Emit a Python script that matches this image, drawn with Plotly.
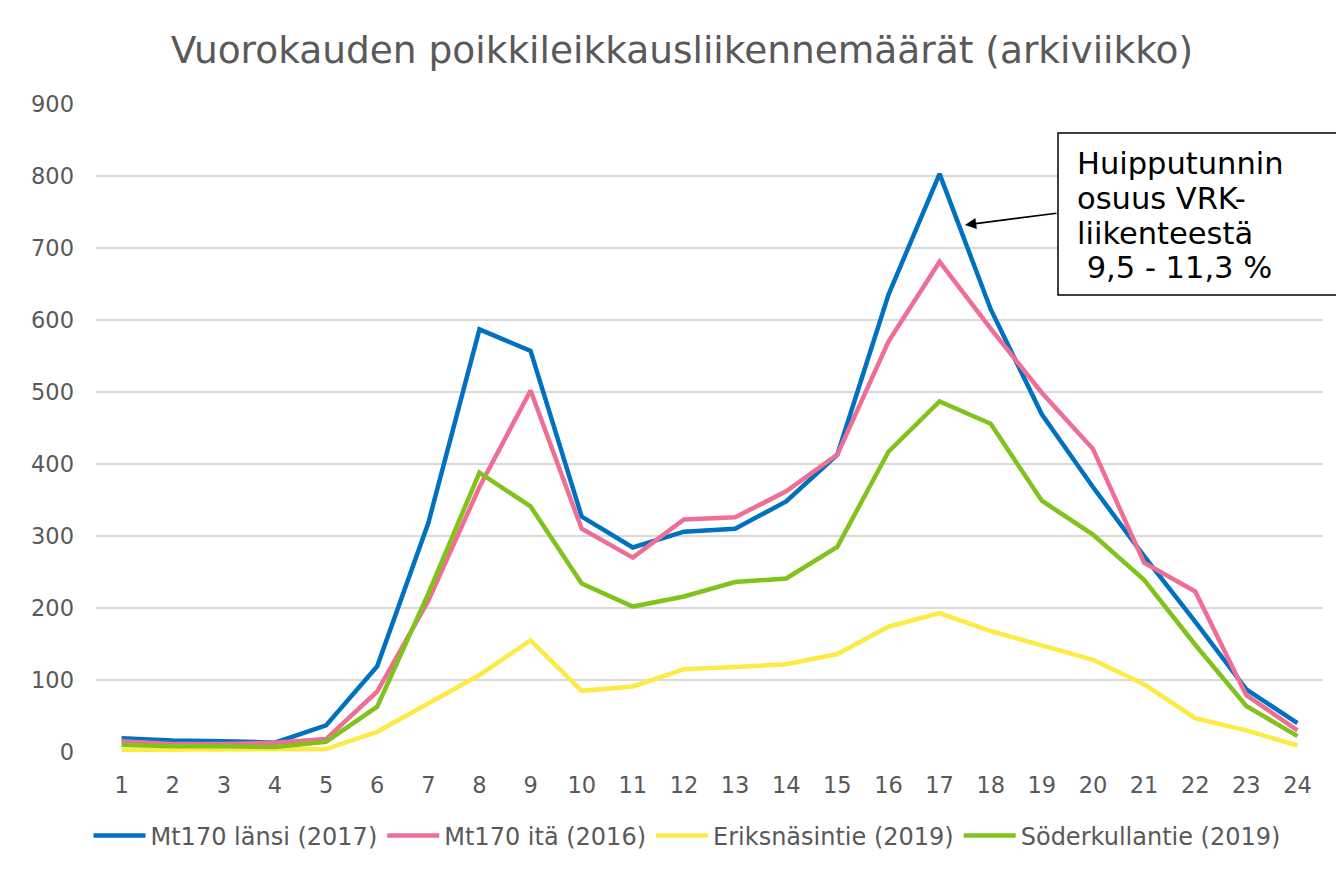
import plotly.graph_objects as go

hours = [str(h) for h in range(1, 25)]
mt170_lansi = [19, 16, 15, 13, 37, 119, 318, 587, 557, 327, 284, 306, 310, 348, 413, 635, 803, 615, 469, 368, 272, 181, 87, 40]
mt170_ita = [15, 11, 11, 13, 18, 84, 210, 368, 502, 310, 270, 323, 326, 362, 413, 570, 681, 588, 499, 421, 263, 223, 79, 30]
eriksnasintie = [3, 3, 3, 3, 4, 28, 68, 107, 155, 85, 91, 115, 118, 122, 136, 174, 193, 168, 148, 128, 94, 47, 30, 9]
soderkullantie = [10, 8, 8, 7, 14, 63, 220, 388, 341, 234, 202, 216, 236, 241, 285, 417, 487, 456, 349, 302, 239, 149, 64, 22]

names = ["Mt170 länsi (2017)", "Mt170 itä (2016)", "Eriksnäsintie (2019)", "Söderkullantie (2019)"]
colors = ["#0070C0", "#EE6E94", "#FFEA45", "#7FC31C"]
series = [mt170_lansi, mt170_ita, eriksnasintie, soderkullantie]
callout_lines = ["Huipputunnin", "osuus VRK-", "liikenteestä", "&nbsp;9,5 - 11,3 %"]

W, H = 1344, 873
OFF = 8  # page body margin
# screen-space plot area: x 96..1323, y 104..752
L, T = 96 - OFF, 104 - OFF
R = W - (1323 - OFF)
B = H - (752 - OFF)
PW, PH = W - L - R, H - T - B
FONT = "DejaVu Sans"
GRAY = "#595959"

def sx(p):  # screen px -> paper x
    return (p - OFF - L) / PW

def sy(p):  # screen px -> paper y
    return (H - B - (p - OFF)) / PH

fig = go.Figure()
for n, c, s in zip(names, colors, series):
    fig.add_trace(go.Scatter(x=hours, y=s, name=n, mode="lines",
                             line=dict(color=c, width=4.5)))

fig.update_layout(
    width=W, height=H,
    margin=dict(l=L, r=R, t=T, b=B),
    paper_bgcolor="white", plot_bgcolor="white",
    font=dict(family=FONT, color=GRAY, size=22.5),
    title=dict(text="Vuorokauden poikkileikkausliikennemäärät (arkiviikko)",
               xref="container", yref="container",
               x=(682 - OFF) / W, xanchor="center",
               y=1 - (50 - OFF) / H, yanchor="middle",
               font=dict(size=37.5, color=GRAY, family=FONT)),
    showlegend=True,
    legend=dict(orientation="h", xref="container", yref="container",
                x=(687 - OFF) / W, xanchor="center",
                y=1 - (836 - OFF) / H, yanchor="middle",
                font=dict(size=24, color=GRAY, family=FONT),
                itemwidth=52, tracegroupgap=0),
    xaxis=dict(type="category", showgrid=False, zeroline=False, showline=False,
               ticks="", tickfont=dict(size=22.5, color=GRAY), ticklabelstandoff=17,
               range=[-0.5, 23.5]),
    yaxis=dict(range=[0, 900], dtick=100, showgrid=True, gridcolor="#D9D9D9",
               gridwidth=1.5, zeroline=False, showline=False, ticks="",
               tickfont=dict(size=22.5, color=GRAY), ticklabelstandoff=21),
)

# callout box
fig.add_shape(type="rect", xref="paper", yref="paper",
              x0=sx(1058), x1=sx(1342), y0=sy(295), y1=sy(133),
              line=dict(color="black", width=1.5), fillcolor="white", layer="above")
for i, t in enumerate(callout_lines):
    fig.add_annotation(xref="paper", yref="paper", x=sx(1075), y=sy(164 + i * 34.5),
                       xanchor="left", yanchor="middle", showarrow=False, text=t,
                       font=dict(size=30.5, color="black", family=FONT))
# arrow
fig.add_annotation(
    xref="paper", yref="paper", x=sx(965), y=sy(225),
    axref="pixel", ayref="pixel", ax=1058 - 965, ay=213 - 225,
    text="", showarrow=True, arrowhead=2, arrowsize=1.4, arrowwidth=1.6,
    arrowcolor="black",
)

fig.write_html("out.html")
